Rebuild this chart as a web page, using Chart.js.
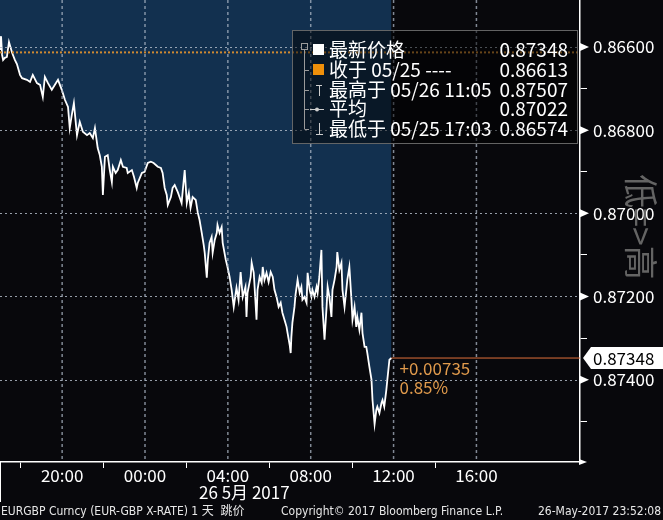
<!DOCTYPE html>
<html><head><meta charset="utf-8">
<script src="https://cdn.jsdelivr.net/npm/chart.js@4"></script>
<style>html,body{margin:0;padding:0;background:#08080c;}canvas{display:block}</style>
</head><body>
<canvas id="c" width="663" height="520"></canvas>
<script>
// minutes since 2017-05-25 00:00
const times = [1020,1023,1026,1029,1034,1040,1046,1055,1063,1069,1078,1084,1098,1107,1115,1127,1136,1144,1150,1159,
1170,1179,1188,1199,1208,1217,1222,1228,1234,1243,1251,1260,1272,1280,1289,1295,1303,1309,1315,1318,
1324,1332,1338,1344,1347,1355,1361,1370,1376,1387,1390,1402,1408,1416,1419,1431,1439,1448,1457,1465,
1477,1486,1491,1497,1503,1506,1515,1520,1526,1535,1541,1546,1555,1561,1567,1572,1578,1587,1593,1598,
1604,1610,1613,1619,1622,1627,1633,1636,1642,1648,1650,1656,1662,1665,1674,1679,1685,1691,1697,1705,
1711,1717,1723,1731,1734,1737,1746,1749,1755,1763,1766,1772,1778,1781,1786,1792,1798,1804,1810,1815,
1821,1827,1833,1838,1844,1850,1853,1859,1862,1864,1867,1873,1876,1882,1888,1893,1896,1902,1908,1911,
1917,1922,1925,1931,1937,1940,1945,1951,1954,1960,1966,1969,1974,1980,1983,1989,1995,1997,2003,2009,
2012,2018,2024,2026,2032,2038,2041,2047,2052,2055,2061,2067,2070,2076,2081,2084,2090,2096,2099,2105,
2110,2113,2119,2125,2128,2133,2139,2142,2148,2154];
const prices = [0.86607,0.86574,0.86619,0.86631,0.86626,0.86624,0.86588,0.86614,0.86631,0.86641,
0.86667,0.86675,0.86679,0.86684,0.86667,0.86687,0.86691,0.86720,0.86672,0.86687,
0.86703,0.86691,0.86679,0.86703,0.86727,0.86744,0.86795,0.86763,0.86735,0.86812,
0.86780,0.86804,0.86812,0.86807,0.86819,0.86795,0.86843,0.86860,0.86888,0.86956,
0.86864,0.86860,0.86896,0.86925,0.86888,0.86903,0.86896,0.86872,0.86888,0.86891,
0.86903,0.86896,0.86912,0.86939,0.86927,0.86903,0.86900,0.86879,0.86876,0.86879,
0.86888,0.86891,0.86903,0.86939,0.86956,0.86980,0.86961,0.86939,0.86932,0.86949,
0.86963,0.86975,0.86896,0.86975,0.86951,0.86987,0.86961,0.86968,0.86999,0.87016,
0.87045,0.87076,0.87095,0.87155,0.87112,0.87071,0.87057,0.87095,0.87064,0.87047,
0.87028,0.87047,0.87033,0.87071,0.87112,0.87129,0.87153,0.87184,0.87225,0.87179,
0.87208,0.87141,0.87201,0.87177,0.87249,0.87191,0.87153,0.87119,0.87143,0.87256,
0.87184,0.87153,0.87167,0.87129,0.87160,0.87143,0.87165,0.87141,0.87153,0.87184,
0.87201,0.87225,0.87215,0.87239,0.87256,0.87273,0.87288,0.87316,0.87336,0.87297,
0.87263,0.87225,0.87196,0.87160,0.87191,0.87177,0.87208,0.87201,0.87215,0.87143,
0.87184,0.87201,0.87184,0.87201,0.87177,0.87191,0.87153,0.87088,0.87225,0.87304,
0.87225,0.87177,0.87201,0.87249,0.87184,0.87160,0.87129,0.87093,0.87136,0.87119,
0.87184,0.87225,0.87177,0.87160,0.87129,0.87208,0.87256,0.87225,0.87273,0.87249,
0.87280,0.87239,0.87288,0.87321,0.87321,0.87336,0.87369,0.87400,0.87449,0.87507,
0.87473,0.87465,0.87480,0.87456,0.87449,0.87465,0.87425,0.87400,0.87352,0.87348];
const prevClose = 0.86613;
const lastPrice = 0.87348;
const xMin = 1020, xMax = 2700;          // 25 May 17:00 -> 26 May 21:00
const yTop = 0.86487, yBottom = 0.87598; // inverted axis range
const xTickMinutes = [1080,1200,1320,1440,1560,1680,1800,1920,2040,2160,2280,2400];
const xGridMinutes = [1200,1440,1680,1920,2160,2400];
const yTickValues = [0.866,0.867,0.868,0.869,0.870,0.871,0.872,0.873,0.874,0.875];
const legendLabels = ['最新价格','收于 05/25 ----','最高于 05/26 11:05','平均','最低于 05/25 17:03'];
const legendValues = ['0.87348','0.86613','0.87507','0.87022','0.86574'];
const changeTexts = ['+0.00735','0.85%'];
const dateLabel = '26 5月 2017';
const footerLeft = 'EURGBP Curncy (EUR-GBP X-RATE) 1 天  跳价';
const footerMid = 'Copyright© 2017 Bloomberg Finance L.P.';
const footerRight = '26-May-2017 23:52:08';
const sideNote = '低=>高';

const FONT = '"Noto Sans CJK SC","Noto Sans",sans-serif';
const GRID = 'rgba(175,185,198,0.85)';
const CLEAR = 'rgba(0,0,0,0)';
const isLabeledX = m => xGridMinutes.indexOf(m) >= 0;
const fmtX = m => String(Math.floor(m/60)%24).padStart(2,'0') + ':' + String(m%60).padStart(2,'0');

const vGridSets = xGridMinutes.map(m => ({
  data: [{x:m, y:yTop}, {x:m, y:yBottom}], borderColor:'rgba(170,180,195,0.75)', borderWidth:1.5,
  borderDash:[3,3], fill:false, pointRadius:0, order:0
}));

const deco = {
  id: 'deco',
  beforeDraw(chart){
    const c = chart.ctx; c.save(); c.fillStyle = '#08080c'; c.fillRect(0,0,chart.width,chart.height); c.restore();
  },
  afterDatasetsDraw(chart){
    const c = chart.ctx, ys = chart.scales.y, a = chart.chartArea;
    c.save(); c.fillStyle = GRID;
    for (let i = 0; i < yTickValues.length; i += 2) {
      const p = Math.round(ys.getPixelForValue(yTickValues[i]));
      for (let xx = Math.floor(a.left); xx < a.right; xx += 5) c.fillRect(xx, p, 2, 1);
    }
    c.restore();
  },
  afterDraw(chart){
    const c = chart.ctx, ys = chart.scales.y, xs = chart.scales.x, a = chart.chartArea;
    c.save();
    c.fillStyle = '#fff';
    yTickValues.forEach((v,i)=>{ if(i%2) return; const p = ys.getPixelForValue(v);
      c.beginPath(); c.moveTo(a.right, p-4); c.lineTo(a.right+9, p); c.lineTo(a.right, p+4); c.closePath(); c.fill(); });
    c.beginPath(); c.moveTo(a.right-1, a.bottom-3); c.lineTo(a.right+7, a.bottom); c.lineTo(a.right-1, a.bottom+3); c.fill();
    c.strokeStyle = '#fff'; c.lineWidth = 1; c.beginPath(); c.moveTo(0.5, a.bottom); c.lineTo(0.5, 502); c.stroke();
    const lp = ys.getPixelForValue(lastPrice);
    c.fillStyle = '#fff';
    c.beginPath(); c.moveTo(a.right+3, lp); c.lineTo(a.right+11, lp-11); c.lineTo(663, lp-11); c.lineTo(663, lp+11); c.lineTo(a.right+11, lp+11); c.closePath(); c.fill();
    c.fillStyle = '#000'; c.font = '17px ' + FONT; c.textBaseline = 'middle'; c.textAlign = 'left';
    c.fillText(legendValues[0], a.right+13, lp+1);
    const lastX = xs.getPixelForValue(times[times.length-1]);
    c.fillStyle = '#e09a4c'; c.font = '17px ' + FONT;
    c.fillText(changeTexts[0], lastX+8, lp+11);
    c.fillText(changeTexts[1], lastX+8, lp+30);
    // legend box
    c.fillStyle = 'rgba(0,0,0,0.5)'; c.fillRect(292,30,286,114);
    c.strokeStyle = 'rgba(110,110,110,0.9)'; c.strokeRect(292.5,30.5,285,113);
    const rows = [50,70,90,109,129];
    c.strokeStyle = '#9a9a9a'; c.lineWidth = 1;
    c.strokeRect(301.5,43.5,6,6);
    c.beginPath(); c.moveTo(304.5,50); c.lineTo(304.5,rows[4]); c.stroke();
    rows.slice(1).forEach(r=>{ c.beginPath(); c.moveTo(304.5,r+0.5); c.lineTo(309,r+0.5); c.stroke(); });
    c.fillStyle = '#fff'; c.fillRect(313,44,11,11);
    c.fillStyle = '#f0900a'; c.fillRect(313,64,11,11);
    c.strokeStyle = '#cfcfcf';
    c.beginPath(); c.moveTo(316,85.5); c.lineTo(322,85.5); c.moveTo(319.5,85.5); c.lineTo(319.5,96); c.stroke();
    c.beginPath(); c.moveTo(310,109.5); c.lineTo(324,109.5); c.stroke();
    c.fillStyle = '#cfcfcf'; c.beginPath(); c.arc(317,109.5,2,0,Math.PI*2); c.fill();
    c.beginPath(); c.moveTo(319.5,123); c.lineTo(319.5,134.5); c.moveTo(316,134.5); c.lineTo(323,134.5); c.stroke();
    c.fillStyle = '#fff'; c.font = '19px ' + FONT; c.textBaseline = 'middle';
    legendLabels.forEach((t,i)=>{ c.textAlign='left'; c.fillText(t,329,rows[i]); c.textAlign='right'; c.fillText(legendValues[i],568,rows[i]); });
    // side note
    c.save(); c.translate(641,227); c.rotate(Math.PI/2); c.fillStyle = '#646464'; c.font = '34px ' + FONT;
    c.textAlign='center'; c.textBaseline='middle'; c.fillText(sideNote,0,0); c.restore();
    // date label
    c.fillStyle = '#fff'; c.font = '17px ' + FONT; c.textAlign='left'; c.textBaseline='middle';
    c.fillText(dateLabel, 199, 493);
    // footer
    c.font = '12px "Liberation Sans Narrow","DejaVu Sans Condensed",' + FONT; c.fillStyle = '#e8e8e8';
    c.fillText(footerLeft, 1, 512);
    c.fillText(footerMid, 281, 512);
    c.textAlign='right'; c.fillText(footerRight, 661, 512);
    c.restore();
  }
};

new Chart(document.getElementById('c'), {
  type: 'line',
  data: { datasets: [
    ...vGridSets,
    { data: times.map((t,i)=>({x:t,y:prices[i]})), borderColor:'#ffffff', borderWidth:1.8,
      backgroundColor:'#12304f', fill:'end', pointRadius:0, tension:0, order:3 },
    { data: [{x:times[times.length-1],y:lastPrice},{x:xMax,y:lastPrice}], borderColor:'#e0703a', borderWidth:1,
      fill:false, pointRadius:0, order:2 },
    { data: [{x:xMin,y:prevClose},{x:xMax,y:prevClose}], borderColor:'#cf8a32', borderWidth:2, borderDash:[2,2],
      fill:false, pointRadius:0, order:1 }
  ]},
  options: {
    responsive:false, animation:false, devicePixelRatio:1,
    layout:{padding:0},
    plugins:{legend:{display:false}, tooltip:{enabled:false}},
    scales:{
      x:{ type:'linear', min:xMin, max:xMax, position:'bottom',
        afterBuildTicks:s=>{ s.ticks = xTickMinutes.map(v=>({value:v})); },
        afterFit:s=>{ s.height = 58; s.paddingLeft = 0; s.paddingRight = 0; },
        ticks:{ autoSkip:false, maxRotation:0, color:'#fff', padding:-3, font:{size:17, family:FONT},
          callback:v=> isLabeledX(v) ? fmtX(v) : '' },
        grid:{ drawOnChartArea:false, color:CLEAR,
          tickColor:ctx=> (ctx.tick && isLabeledX(ctx.tick.value)) ? CLEAR : '#fff', tickLength:6, tickWidth:1 },
        border:{ color:'#fff', width:1.5 }
      },
      y:{ type:'linear', position:'right', reverse:true, min:yTop, max:yBottom,
        afterBuildTicks:s=>{ s.ticks = yTickValues.map(v=>({value:v})); },
        afterFit:s=>{ s.width = 83; s.paddingTop = 0; s.paddingBottom = 0; },
        ticks:{ autoSkip:false, color:'#fff', padding:6, font:{size:17, family:FONT},
          callback:(v,i)=> i%2===0 ? v.toFixed(5) : '' },
        grid:{ drawOnChartArea:false, color:CLEAR,
          tickColor:ctx=> (ctx.index%2===0) ? CLEAR : '#fff', tickLength:7, tickWidth:1 },
        border:{ color:'#fff', width:1.5 }
      }
    }
  },
  plugins:[deco]
});
</script>
</body></html>
